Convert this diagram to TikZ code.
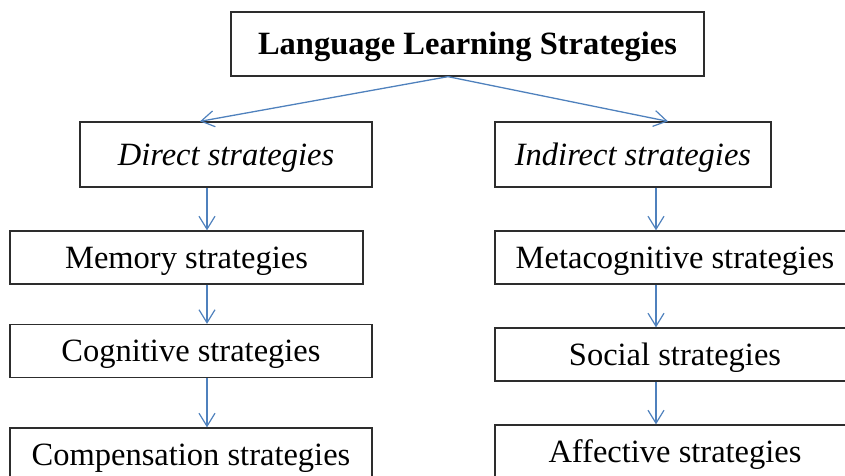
\documentclass[tikz,border=0pt]{standalone}
\usepackage{fontspec}
\setmainfont{Liberation Serif}
\usetikzlibrary{arrows.meta}
\definecolor{linkblue}{RGB}{79,129,189}
\definecolor{framegray}{RGB}{45,45,45}
\tikzstyle{box}=[draw=framegray,line width=1.3pt,inner sep=0pt,text height=28pt,text depth=7pt,font=\fontsize{32.5}{38}\selectfont]
\tikzstyle{title box}=[box,font=\fontsize{32.5}{38}\selectfont\bfseries]
\tikzstyle{branch box}=[box,font=\fontsize{32.5}{38}\selectfont\itshape,minimum height=65pt]
\tikzstyle{link}=[draw=linkblue,line width=1.3pt,-{Straight Barb[length=13pt,width=16pt,line width=1.2pt]}]

\begin{document}
\begin{tikzpicture}[x=1pt,y=-1pt]
    \useasboundingbox (0,0) rectangle (845,475);
    \clip (0,0) rectangle (845,475);
    % The root and its two branches
    \node[title box,minimum width=473pt,minimum height=64pt] (LLS) at (467.5,44) {Language Learning Strategies};
    \node[branch box,minimum width=292pt] (Direct) at (226,154.5) {Direct strategies};
    \node[branch box,minimum width=276pt] (Indirect) at (633,154.5) {Indirect strategies};

    % Then the six groups of strategies
    \foreach \pos/\w/\name/\txt in {{(186.5,257.5)/353/Memory/Memory strategies}, {(191,351)/362/Cognitive/Cognitive strategies}, {(191,454.5)/362/Compensation/Compensation strategies}, {(675,257.5)/360/Metacog/Metacognitive strategies}, {(675,354.5)/360/Social/Social strategies}, {(675,451.5)/360/Affective/Affective strategies}}
        \node[box,minimum width=\w pt,minimum height=53pt] (\name) at \pos {\txt};

    % Columns the arrows run along
    \coordinate (fork) at (448,0);
    \coordinate (dtip) at (200,0);
    \coordinate (itip) at (668,0);
    \coordinate (lcol) at (207,0);
    \coordinate (rcol) at (656,0);

    % Connect the boxes with arrows
    \path[link] (LLS.south -| fork) -- (Direct.north -| dtip);
    \path[link] (LLS.south -| fork) -- (Indirect.north -| itip);
    \foreach \source/\dest/\col in {Direct/Memory/lcol, Memory/Cognitive/lcol, Cognitive/Compensation/lcol, Indirect/Metacog/rcol, Metacog/Social/rcol, Social/Affective/rcol}
        \path[link] (\source.south -| \col) -- (\dest.north -| \col);
\end{tikzpicture}
\end{document}
